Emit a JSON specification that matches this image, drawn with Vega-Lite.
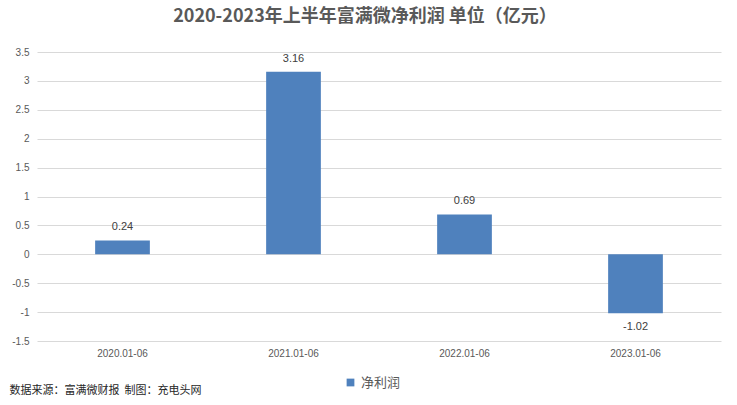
{
  "$schema": "https://vega.github.io/schema/vega-lite/v6.json",
  "autosize": "none",
  "width": 684,
  "height": 289,
  "padding": {"left": 37, "top": 52, "right": 16, "bottom": 64},
  "background": "white",
  "title": {
    "text": "2020-2023年上半年富满微净利润 单位（亿元）",
    "font": "Noto Sans CJK SC",
    "fontSize": 18,
    "fontWeight": "bold",
    "color": "#595959",
    "anchor": "middle",
    "dx": -14,
    "offset": 21
  },
  "data": {
    "values": [
      {"period": "2020.01-06", "series": "净利润", "profit": 0.24},
      {"period": "2021.01-06", "series": "净利润", "profit": 3.16},
      {"period": "2022.01-06", "series": "净利润", "profit": 0.69},
      {"period": "2023.01-06", "series": "净利润", "profit": -1.02}
    ]
  },
  "encoding": {
    "x": {
      "field": "period",
      "type": "nominal",
      "scale": {"paddingInner": 0.68, "paddingOuter": 0.34},
      "axis": {
        "labelAngle": 0,
        "domain": false,
        "ticks": false,
        "labelPadding": 7,
        "labelFontSize": 10,
        "labelFont": "Liberation Sans",
        "labelColor": "#595959",
        "title": "数据来源：富满微财报\u00a0\u00a0制图：充电头网",
        "titleFont": "Noto Sans CJK SC",
        "titleFontSize": 11,
        "titleFontWeight": "normal",
        "titleColor": "#262626",
        "titleAnchor": "start",
        "titleAlign": "left",
        "titleBaseline": "alphabetic",
        "titleX": -28,
        "titleY": 52
      }
    },
    "y": {
      "field": "profit",
      "type": "quantitative",
      "scale": {"domain": [-1.5, 3.5], "nice": false},
      "axis": {
        "values": [-1.5, -1, -0.5, 0, 0.5, 1, 1.5, 2, 2.5, 3, 3.5],
        "format": ".1~f",
        "domain": false,
        "ticks": false,
        "labelPadding": 8,
        "labelFontSize": 10,
        "labelFont": "Liberation Sans",
        "labelColor": "#595959",
        "gridColor": "#d9d9d9",
        "title": null
      }
    }
  },
  "layer": [
    {
      "mark": {"type": "bar"},
      "encoding": {
        "color": {
          "field": "series",
          "type": "nominal",
          "scale": {"range": ["#4f81bd"]},
          "legend": {
            "title": null,
            "orient": "none",
            "legendX": 307,
            "legendY": 324,
            "symbolType": "square",
            "symbolSize": 60,
            "labelFont": "Noto Sans CJK SC",
            "labelFontSize": 13,
            "labelColor": "#595959"
          }
        }
      }
    },
    {
      "transform": [{"filter": "datum.profit >= 0"}],
      "mark": {"type": "text", "dy": -13, "fontSize": 11, "font": "Liberation Sans", "color": "#404040"},
      "encoding": {"text": {"field": "profit", "type": "quantitative", "format": ".2f"}}
    },
    {
      "transform": [{"filter": "datum.profit < 0"}],
      "mark": {"type": "text", "dy": 14, "fontSize": 11, "font": "Liberation Sans", "color": "#404040"},
      "encoding": {"text": {"field": "profit", "type": "quantitative", "format": ".2f"}}
    }
  ],
  "config": {
    "view": {"stroke": null},
    "locale": {
      "number": {
        "decimal": ".",
        "thousands": ",",
        "grouping": [3],
        "currency": ["", ""],
        "minus": "-"
      }
    }
  }
}
